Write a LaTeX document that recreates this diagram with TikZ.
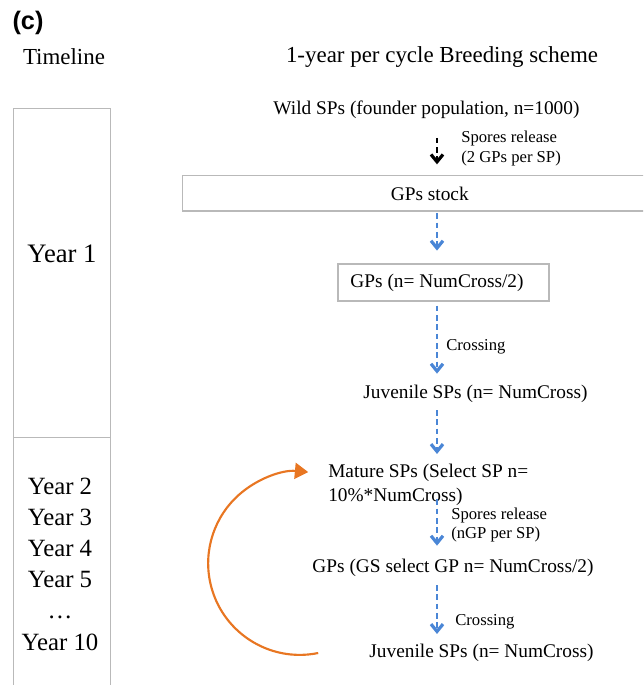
\documentclass[tikz,border=0pt]{standalone}
\usepackage{fontspec}
\setmainfont{Liberation Serif}
\newfontfamily\labsans{Liberation Sans}
\usetikzlibrary{arrows.meta}
\definecolor{flowblue}{RGB}{74,134,214}
\definecolor{looporange}{RGB}{232,118,34}
\definecolor{boxgray}{RGB}{185,185,185}
\begin{document}
\begin{tikzpicture}[x=0.75pt,y=-0.75pt,
  txt/.style={inner sep=0pt, font=\fontsize{14.5}{18}\selectfont},
  small/.style={inner sep=0pt, anchor=west, align=left, font=\fontsize{12.5}{14.5}\selectfont},
  headtxt/.style={inner sep=0pt, font=\fontsize{17.2}{20}\selectfont},
  yeartxt/.style={inner sep=0pt, align=center, font=\fontsize{18.6}{23.4}\selectfont},
  box/.style={draw=boxgray, line width=1.1pt, inner sep=0pt},
  flowblk/.style={black, line width=1.2pt, dash pattern=on 4.2pt off 2.8pt,
    -{Straight Barb[length=5.5pt,width=9pt,line width=2.4pt]}},
  flow/.style={flowblue, line width=1.2pt, dash pattern=on 4.2pt off 2.8pt,
    -{Straight Barb[length=5.5pt,width=9pt,line width=2.4pt]}},
  loopback/.style={looporange, line width=1.6pt, -{Triangle[length=10pt,width=12pt]}}
]
\useasboundingbox (0,0) rectangle (643,685);
\clip (0,0) rectangle (643,685);

% panel label and headings
\node[inner sep=0pt, font=\labsans\bfseries\fontsize{19}{22}\selectfont] (panel) at (28,23) {(c)};
\node[headtxt] (tlhead) at (64,57) {Timeline};
\node[headtxt] (schemehead) at (442,57) {1-year per cycle Breeding scheme};

% timeline
\node[box, minimum width=72.75pt, minimum height=246.75pt, anchor=north west] (tl1) at (13,108) {};
\node[box, minimum width=72.75pt, minimum height=200pt, anchor=north west] (tl2) at (13,437) {};
\node[yeartxt, font=\fontsize{20}{24}\selectfont] (y1) at (62,254) {Year 1};
\node[yeartxt] (yrs) at (60,564) {Year 2\\Year 3\\Year 4\\Year 5\\\ldots\\Year 10};

% scheme
\coordinate (ax) at (437,0);
\node[txt] (wild) at (426.5,110) {Wild SPs (founder population, n=1000)};
\node[small] (lab1) at (461,148.5) {Spores release\\(2 GPs per SP)};
\node[box, txt, minimum width=358.5pt, minimum height=26.6pt, anchor=north west] (stock) at (182,175) {\hspace*{12pt}GPs stock};
\node[box, txt, minimum width=158.25pt, minimum height=27.75pt] (gps) at (443.5,282.5) {GPs (n= NumCross/2)\hspace*{9.75pt}};
\node[small] (cross1) at (446,347) {Crossing};
\node[txt] (juv1) at (475.5,394) {Juvenile SPs (n= NumCross)};
\node[txt, align=left, anchor=west] (mature) at (328,485) {Mature SPs (Select SP n=\\10\%*NumCross)};
\node[small] (lab2) at (451,525) {Spores release\\(nGP per SP)};
\node[txt] (gpsgs) at (453,568) {GPs (GS select GP n= NumCross/2)};
\node[small] (cross2) at (455,622) {Crossing};
\node[txt] (juv2) at (481.5,653) {Juvenile SPs (n= NumCross)};

% connectors
\draw[flowblk, shorten <=14pt, shorten >=8pt] (wild.south -| ax) -- (stock.north -| ax);
\draw[flow, shorten <=1pt, shorten >=9.5pt] (stock.south -| ax) -- (gps.north -| ax);
\draw[flow, shorten <=3pt, shorten >=8.5pt] (gps.south -| ax) -- (juv1.north -| ax);
\draw[flow, shorten <=5.25pt, shorten >=7.5pt] (juv1.south -| ax) -- (mature.north -| ax);
\draw[flow, shorten <=-5pt, shorten >=10pt] (mature.south -| ax) -- (gpsgs.north -| ax);
\draw[flow, shorten <=6pt, shorten >=7.5pt] (gpsgs.south -| ax) -- (juv2.north -| ax);

% loop back
\coordinate (orA) at ([xshift=-38.25pt]juv2.west);
\draw[loopback] (orA) arc[start angle=78.4, end angle=275.3, radius=91.6];
\end{tikzpicture}
\end{document}
